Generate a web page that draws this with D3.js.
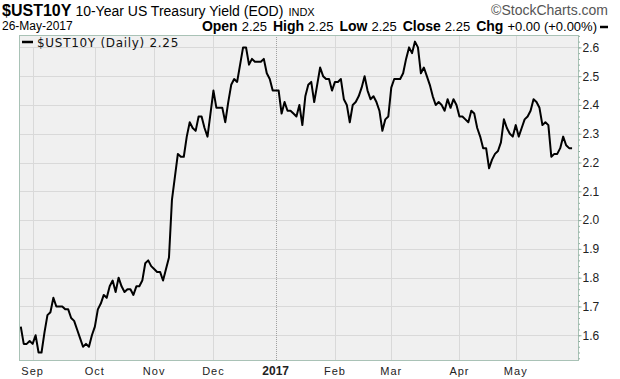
<!DOCTYPE html>
<html>
<head>
<meta charset="utf-8">
<script src="https://cdn.jsdelivr.net/npm/d3@7"></script>
<style>
  body { margin: 0; background: #fff; }
  svg { display: block; }
  text { font-family: "Liberation Sans", Arial, sans-serif; }
</style>
</head>
<body>
<div id="chart"></div>
<script>
// bond market calendar, 26-Aug-2016 .. 26-May-2017
const startDate = "2016-08-26";
const endDate = "2017-05-26";
const holidays = ["2016-09-05","2016-10-10","2016-11-11","2016-11-24","2016-12-26",
                  "2017-01-02","2017-01-16","2017-02-20","2017-04-14"];

// daily closes, one array per month
const aug = [1.63,1.57,1.57,1.58];
const sep = [1.57,1.60,1.54,1.54,1.61,1.67,1.68,1.73,1.70,1.70,1.70,1.69,1.69,1.66,1.65,1.62,1.59,1.56,1.57,1.56,1.60];
const oct = [1.63,1.69,1.71,1.74,1.73,1.77,1.79,1.75,1.80,1.77,1.75,1.76,1.76,1.74,1.77,1.77,1.79,1.85,1.86,1.84];
const nov = [1.83,1.82,1.82,1.79,1.83,1.87,2.07,2.15,2.23,2.22,2.22,2.29,2.34,2.32,2.31,2.36,2.36,2.32,2.29,2.37];
const dec = [2.45,2.39,2.39,2.39,2.34,2.41,2.47,2.49,2.48,2.54,2.60,2.60,2.54,2.56,2.55,2.55,2.55,2.56,2.51,2.49,2.45];
const jan = [2.45,2.45,2.37,2.41,2.38,2.38,2.37,2.36,2.40,2.33,2.43,2.47,2.48,2.41,2.47,2.53,2.50,2.49,2.49,2.45];
const feb = [2.48,2.48,2.49,2.42,2.40,2.34,2.40,2.41,2.43,2.46,2.50,2.45,2.42,2.43,2.41,2.38,2.31,2.35,2.36];
const mar = [2.46,2.49,2.49,2.49,2.51,2.56,2.60,2.58,2.62,2.60,2.51,2.53,2.50,2.47,2.43,2.40,2.41,2.40,2.38,2.42,2.39,2.42,2.40];
const apr = [2.36,2.36,2.35,2.34,2.38,2.37,2.32,2.29,2.25,2.25,2.18,2.21,2.23,2.24,2.27,2.35,2.32,2.30,2.29];
const may = [2.33,2.29,2.32,2.35,2.36,2.38,2.42,2.41,2.39,2.33,2.34,2.33,2.22,2.23,2.23,2.25,2.29,2.26,2.25,2.25];

const yTicks = [1.6,1.7,1.8,1.9,2.0,2.1,2.2,2.3,2.4,2.5,2.6];
const monthLabels = ["Sep","Oct","Nov","Dec","2017","Feb","Mar","Apr","May"];

const width = 620, height = 379;
const plot = {left: 19, right: 578, top: 35, bottom: 360};

const fmt = d3.timeFormat("%Y-%m-%d");
const parse = d3.timeParse("%Y-%m-%d");
const days = d3.timeDay.range(parse(startDate), d3.timeDay.offset(parse(endDate), 1))
    .filter(d => d.getDay() != 0 && d.getDay() != 6 && !holidays.includes(fmt(d)));
const values = [].concat(aug, sep, oct, nov, dec, jan, feb, mar, apr, may);
const data = days.map((d, i) => ({date: d, i: i, v: values[i]}));

const x = d3.scaleLinear().domain([-0.6, data.length + 1]).range([plot.left, plot.right]);
const y = d3.scaleLinear().domain([1.514, 2.643]).range([plot.bottom, plot.top]);

// first trading day of each month after the start
const monthStarts = data.filter((d, i) => i > 0 && d.date.getMonth() != data[i-1].date.getMonth());

const svg = d3.select("#chart").append("svg")
    .attr("width", width).attr("height", height);

svg.append("rect")
    .attr("x", plot.left).attr("y", plot.top)
    .attr("width", plot.right - plot.left).attr("height", plot.bottom - plot.top)
    .attr("fill", "#f0f0f0");

// grid
svg.append("g").selectAll("line").data(yTicks).enter().append("line")
    .attr("x1", plot.left).attr("x2", plot.right)
    .attr("y1", d => Math.round(y(d)) + 0.5).attr("y2", d => Math.round(y(d)) + 0.5)
    .attr("stroke", "#d9d9d9");

svg.append("g").selectAll("line").data(monthStarts).enter().append("line")
    .attr("x1", d => Math.round(x(d.i)) + 0.5).attr("x2", d => Math.round(x(d.i)) + 0.5)
    .attr("y1", plot.top).attr("y2", plot.bottom)
    .attr("stroke", d => d.date.getMonth() == 0 ? "#a0a0a0" : "#d9d9d9")
    .attr("stroke-dasharray", d => d.date.getMonth() == 0 ? "1,1" : null);

// legend box
svg.append("rect")
    .attr("x", plot.left + 1).attr("y", plot.top + 1)
    .attr("width", 164).attr("height", 11)
    .attr("fill", "#f0f0f0");
svg.append("line")
    .attr("x1", 22).attr("x2", 33).attr("y1", 42).attr("y2", 42)
    .attr("stroke", "#000").attr("stroke-width", 2.5);
svg.append("text")
    .attr("x", 37).attr("y", 46.5)
    .style("font-family", "'DejaVu Sans', sans-serif")
    .style("font-size", "12px")
    .style("letter-spacing", "0.7px")
    .attr("fill", "#111")
    .text("$UST10Y (Daily) " + values[values.length - 1].toFixed(2));

// price line
const line = d3.line().x(d => x(d.i)).y(d => y(d.v));
svg.append("path")
    .datum(data)
    .attr("d", line)
    .attr("fill", "none")
    .attr("stroke", "#000")
    .attr("stroke-width", 2)
    .attr("stroke-linejoin", "round");

// frame
svg.append("rect")
    .attr("x", plot.left + 0.5).attr("y", plot.top + 0.5)
    .attr("width", plot.right - plot.left).attr("height", plot.bottom - plot.top)
    .attr("fill", "none")
    .attr("stroke", "#a9c2b6");

// right axis
const yAxis = svg.append("g")
    .attr("transform", `translate(${plot.right + 0.5},0)`)
    .call(d3.axisRight(y).tickValues(yTicks).tickFormat(d3.format(".1f")).tickSize(3).tickPadding(1));
yAxis.select(".domain").remove();
yAxis.selectAll(".tick line").attr("stroke", "#8fae9f");
yAxis.selectAll(".tick text")
    .style("font-size", "12px")
    .attr("fill", "#222");

const minor = svg.append("g")
    .attr("transform", `translate(${plot.right + 0.5},0)`)
    .call(d3.axisRight(y).tickValues(d3.range(1.52, 2.64, 0.02)).tickFormat("").tickSize(1.5));
minor.select(".domain").remove();
minor.selectAll(".tick line").attr("stroke", "#8fae9f");

// bottom axis labels
svg.append("g").selectAll("text").data(monthStarts).enter().append("text")
    .attr("x", d => x(d.i))
    .attr("y", 375)
    .attr("text-anchor", "middle")
    .style("font-size", d => d.date.getMonth() == 0 ? "12px" : "11px")
    .style("font-weight", d => d.date.getMonth() == 0 ? "bold" : "normal")
    .style("letter-spacing", d => d.date.getMonth() == 0 ? "0px" : "1px")
    .attr("fill", "#222")
    .text((d, i) => monthLabels[i]);

// header
const last = values[values.length - 1];
const h1 = svg.append("text").attr("x", 2).attr("y", 16).attr("fill", "#000");
h1.append("tspan").style("font-weight", "bold").style("font-size", "16px").text("$UST10Y");
h1.append("tspan").style("font-size", "14px").attr("dx", 4).text("10-Year US Treasury Yield (EOD)");
h1.append("tspan").style("font-size", "11px").attr("dx", 5).text("INDX");

svg.append("text")
    .attr("x", 608).attr("y", 15)
    .attr("text-anchor", "end")
    .style("font-size", "14px")
    .attr("fill", "#555")
    .text("\u00A9StockCharts.com");

svg.append("text")
    .attr("x", 2).attr("y", 30)
    .style("font-size", "12px")
    .attr("fill", "#000")
    .text("26-May-2017");

const stats = [["Open", last.toFixed(2)], ["High", last.toFixed(2)], ["Low", last.toFixed(2)],
               ["Close", last.toFixed(2)], ["Chg", "+0.00 (+0.00%)"]];
const h2 = svg.append("text").attr("x", 597).attr("y", 31).attr("text-anchor", "end").attr("fill", "#000");
stats.forEach((s, i) => {
    h2.append("tspan").style("font-weight", "bold").style("font-size", "14px")
        .attr("dx", i == 0 ? 0 : 6).text(s[0]);
    h2.append("tspan").style("font-size", "13px").attr("dx", 4).text(s[1]);
});
svg.append("line")
    .attr("x1", 600).attr("x2", 608).attr("y1", 27).attr("y2", 27)
    .attr("stroke", "#000").attr("stroke-width", 2.5);
</script>
</body>
</html>
